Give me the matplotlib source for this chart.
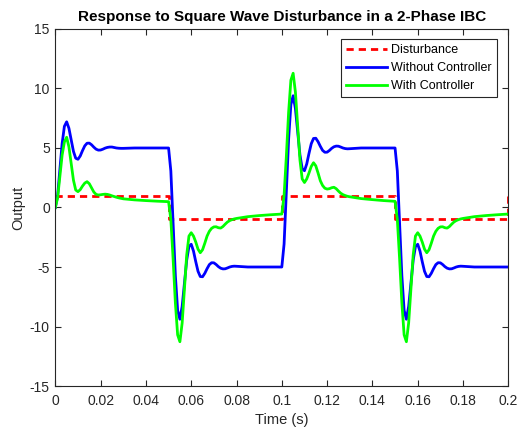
import numpy as np
import matplotlib
matplotlib.use('Agg')
import matplotlib.pyplot as plt

plt.rcParams['font.family'] = ['Liberation Sans', 'DejaVu Sans']
plt.rcParams['axes.unicode_minus'] = False

### DATA

# sample times inside each half period of the square wave
t_seg = [0.000, 0.001, 0.002, 0.003, 0.004, 0.005, 0.006, 0.007, 0.008, 0.009,
         0.010, 0.011, 0.012, 0.013, 0.014, 0.015, 0.016, 0.017, 0.018, 0.019,
         0.020, 0.021, 0.022, 0.023, 0.024, 0.025, 0.026, 0.027, 0.028, 0.029,
         0.030, 0.035, 0.040, 0.045]
seg_start = [0.00, 0.05, 0.10, 0.15]
t_end = 0.2

blue_1 = [0.00, 0.97, 3.14, 5.37, 6.82, 7.20, 6.66, 5.67, 4.72, 4.14,
          4.05, 4.33, 4.78, 5.18, 5.40, 5.41, 5.27, 5.07, 4.90, 4.82,
          4.83, 4.90, 4.99, 5.05, 5.08, 5.08, 5.04, 5.00, 4.98, 4.97,
          4.97, 5.00, 5.00, 5.00]
blue_2 = [5.00, 3.07, -1.28, -5.73, -8.64, -9.39, -8.31, -6.33, -4.43, -3.27,
          -3.09, -3.66, -4.55, -5.36, -5.80, -5.82, -5.53, -5.14, -4.80, -4.64,
          -4.65, -4.79, -4.97, -5.10, -5.16, -5.15, -5.08, -5.00, -4.95, -4.93,
          -4.94, -5.00, -5.00, -5.00]
blue_3 = [-5.00, -3.07, 1.28, 5.73, 8.64, 9.39, 8.31, 6.33, 4.43, 3.27,
          3.09, 3.66, 4.55, 5.36, 5.80, 5.82, 5.53, 5.14, 4.80, 4.64,
          4.65, 4.79, 4.97, 5.10, 5.16, 5.15, 5.08, 5.00, 4.95, 4.93,
          4.94, 5.00, 5.00, 5.00]
blue_4 = [5.00, 3.07, -1.28, -5.73, -8.64, -9.39, -8.31, -6.33, -4.43, -3.27,
          -3.09, -3.66, -4.55, -5.36, -5.80, -5.82, -5.53, -5.14, -4.80, -4.64,
          -4.65, -4.79, -4.97, -5.10, -5.16, -5.15, -5.08, -5.00, -4.95, -4.93,
          -4.94, -5.00, -5.00, -5.00]
blue_end = -5.00

green_1 = [0.00, 0.80, 2.60, 4.40, 5.50, 5.90, 5.10, 3.70, 2.30, 1.47,
           1.33, 1.50, 1.80, 2.05, 2.17, 2.00, 1.65, 1.30, 1.10, 1.05,
           1.07, 1.10, 1.12, 1.10, 1.05, 0.98, 0.92, 0.86, 0.81, 0.77,
           0.73, 0.64, 0.58, 0.53]
green_2 = [0.49, -1.00, -4.30, -8.00, -10.70, -11.28, -9.70, -6.80, -4.00, -2.40,
           -2.12, -2.40, -2.90, -3.50, -3.80, -3.55, -3.00, -2.40, -2.00, -1.75,
           -1.63, -1.62, -1.70, -1.73, -1.60, -1.40, -1.22, -1.10, -1.02, -0.96,
           -0.92, -0.77, -0.68, -0.61]
green_3 = [-0.55, 1.00, 4.30, 8.00, 10.70, 11.28, 9.70, 6.80, 4.00, 2.40,
           2.10, 2.40, 2.90, 3.45, 3.76, 3.50, 2.90, 2.25, 1.85, 1.62,
           1.55, 1.58, 1.66, 1.70, 1.58, 1.38, 1.20, 1.08, 1.00, 0.94,
           0.90, 0.75, 0.66, 0.58]
green_4 = [0.52, -1.00, -4.30, -8.00, -10.70, -11.28, -9.70, -6.80, -4.00, -2.40,
           -2.12, -2.40, -2.90, -3.50, -3.80, -3.55, -3.00, -2.40, -2.00, -1.75,
           -1.63, -1.62, -1.70, -1.73, -1.60, -1.40, -1.22, -1.10, -1.02, -0.96,
           -0.92, -0.77, -0.68, -0.61]
green_end = -0.55

dist_t = [0.0, 0.05, 0.05, 0.10, 0.10, 0.15, 0.15, 0.20, 0.20]
dist = [1, 1, -1, -1, 1, 1, -1, -1, 1]

time = np.concatenate([np.array(t_seg) + s for s in seg_start] + [[t_end]])
without_ctrl = np.concatenate([blue_1, blue_2, blue_3, blue_4, [blue_end]])
with_ctrl = np.concatenate([green_1, green_2, green_3, green_4, [green_end]])

### PLOT

fig = plt.figure(figsize=(5.19, 4.30), dpi=100)
ax = fig.add_axes([0.1066, 0.1023, 0.8728, 0.8303])

ax.plot(dist_t, dist, color='#ff0000', linestyle='--', dashes=(2.6, 1.8),
        lw=2, label='Disturbance')
ax.plot(time, without_ctrl, color='#0000ff', lw=2, label='Without Controller')
ax.plot(time, with_ctrl, color='#00ff00', lw=2, label='With Controller')

ax.set_xlim(0, 0.2)
ax.set_ylim(-15, 15)
ax.set_xticks(np.arange(0, 0.201, 0.02))
ax.set_xticklabels(['0', '0.02', '0.04', '0.06', '0.08', '0.1',
                    '0.12', '0.14', '0.16', '0.18', '0.2'])
ax.set_yticks(np.arange(-15, 16, 5))

grey = '#262626'
for sp in ax.spines.values():
    sp.set_color(grey)
    sp.set_linewidth(0.8)
ax.tick_params(direction='in', top=True, right=True, length=4, width=0.8,
               color=grey, labelcolor=grey, labelsize=10)
ax.tick_params(axis='x', pad=6)
ax.tick_params(axis='y', pad=4)

ax.set_title('Response to Square Wave Disturbance in a 2-Phase IBC',
             fontsize=11, fontweight='bold', pad=6)
ax.set_xlabel('Time (s)', fontsize=10.5, color=grey, labelpad=3)
ax.set_ylabel('Output', fontsize=10.5, color=grey, labelpad=3)

leg = ax.legend(loc='upper right', bbox_to_anchor=(0.975, 0.972),
                borderaxespad=0, fontsize=9, fancybox=False, framealpha=1,
                edgecolor=grey, handlelength=3.3, handletextpad=0.35,
                labelspacing=0.5, borderpad=0.4)
leg.get_frame().set_linewidth(0.8)

plt.savefig('out.png', dpi=100)
plt.close('all')
